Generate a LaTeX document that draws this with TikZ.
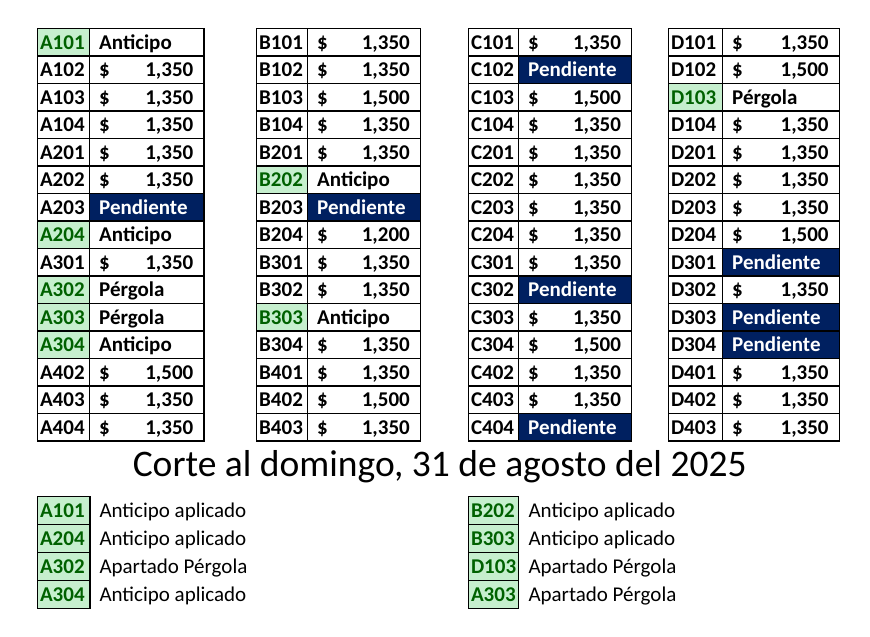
\documentclass[tikz,border=0pt]{standalone}
\usepackage{fontspec}
\setmainfont{Carlito}
\definecolor{navy}{HTML}{002060}
\definecolor{goodfill}{HTML}{C6EFCE}
\definecolor{goodtext}{HTML}{006100}
\tikzset{
  grid line/.style={line width=1.1pt, black},
  lab/.style={anchor=base west, inner sep=0pt, font=\fontsize{21}{25}\selectfont\bfseries},
  goodlab/.style={lab, text=goodtext},
  numtxt/.style={anchor=base east, inner sep=0pt, font=\fontsize{21}{25}\selectfont\bfseries},
  pendtxt/.style={lab, text=white},
  legtxt/.style={anchor=base west, inner sep=0pt, font=\fontsize{21}{25}\selectfont},
  titletxt/.style={anchor=base, inner sep=0pt, font=\fontsize{37.5}{44}\selectfont}
}
\newcommand\mktable[4]{%
  \foreach \lab/\kind/\val [count=\i from 0] in {#4} {
    \pgfmathsetmacro\yt{28.5+27.5*\i}
    \pgfmathsetmacro\yb{\yt+27.5}
    \pgfmathsetmacro\ybase{\yt+20.7}
    \ifcase\kind\relax
      \node[lab] (\lab-d) at (#2+9.5,\ybase) {\$};
      \node[numtxt] (\lab-v) at (#3-10.5,\ybase) {1,\val};
      \node[lab] (\lab) at (#1+2.5,\ybase) {\lab};
    \or
      \fill[navy] (#2,\yt) rectangle (#3,\yb);
      \node[pendtxt] (\lab-v) at (#2+9.5,\ybase) {Pendiente};
      \node[lab] (\lab) at (#1+2.5,\ybase) {\lab};
    \or
      \fill[goodfill] (#1,\yt) rectangle (#2,\yb);
      \node[goodlab] (\lab) at (#1+2.5,\ybase) {\lab};
      \node[lab] (\lab-v) at (#2+9.5,\ybase) {\val};
    \fi
  }
  \draw[grid line] (#1,28.5) rectangle (#3,441);
  \draw[grid line] (#2,28.5) -- (#2,441);
  \foreach \j in {1,...,14} \draw[grid line] (#1,28.5+27.5*\j) -- (#3,28.5+27.5*\j);
}
\newcommand\mklegend[4]{%
  \foreach \lab/\txt [count=\i from 0] in {#4} {
    \pgfmathsetmacro\yt{496.7+27.9*\i}
    \pgfmathsetmacro\yb{\yt+27.9}
    \pgfmathsetmacro\ybase{\yt+20.7}
    \fill[goodfill] (#1,\yt) rectangle (#2,\yb);
    \node[goodlab] (leg\lab) at (#1+2.5,\ybase) {\lab};
    \node[legtxt] (legt\lab) at (#3,\ybase) {\txt};
    \draw[grid line] (#1,\yt) rectangle (#2,\yb);
  }
}
\begin{document}
\begin{tikzpicture}[x=1pt,y=-1pt]
\useasboundingbox[fill=white] (0,0) rectangle (870,637);
\mktable{37.3}{89.5}{204}{A101/2/Anticipo, A102/0/350, A103/0/350, A104/0/350, A201/0/350, A202/0/350, A203/1/x, A204/2/Anticipo, A301/0/350, A302/2/Pérgola, A303/2/Pérgola, A304/2/Anticipo, A402/0/500, A403/0/350, A404/0/350}
\mktable{256.5}{307.5}{420.5}{B101/0/350, B102/0/350, B103/0/500, B104/0/350, B201/0/350, B202/2/Anticipo, B203/1/x, B204/0/200, B301/0/350, B302/0/350, B303/2/Anticipo, B304/0/350, B401/0/350, B402/0/500, B403/0/350}
\mktable{468.3}{518.5}{631.7}{C101/0/350, C102/1/x, C103/0/500, C104/0/350, C201/0/350, C202/0/350, C203/0/350, C204/0/350, C301/0/350, C302/1/x, C303/0/350, C304/0/500, C402/0/350, C403/0/350, C404/1/x}
\mktable{668.3}{722.5}{839.3}{D101/0/350, D102/0/500, D103/2/Pérgola, D104/0/350, D201/0/350, D202/0/350, D203/0/350, D204/0/500, D301/1/x, D302/0/350, D303/1/x, D304/1/x, D401/0/350, D402/0/350, D403/0/350}
\node[titletxt] (title) at (439.7,476) {Corte al domingo, 31 de agosto del 2025};
\mklegend{37.3}{90}{99.3}{A101/Anticipo aplicado, A204/Anticipo aplicado, A302/Apartado Pérgola, A304/Anticipo aplicado}
\mklegend{468.3}{518.3}{528.3}{B202/Anticipo aplicado, B303/Anticipo aplicado, D103/Apartado Pérgola, A303/Apartado Pérgola}
\end{tikzpicture}
\end{document}
